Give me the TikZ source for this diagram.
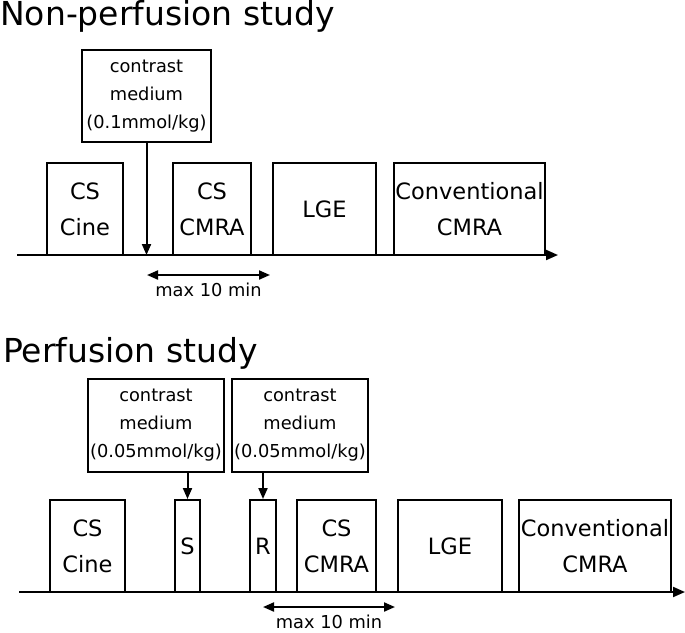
\documentclass[tikz,border=0pt]{standalone}
\usepackage{fontspec}
\setmainfont{DejaVu Sans}
\usetikzlibrary{arrows.meta}

\begin{document}
\begin{tikzpicture}[
    x=1pt, y=-1pt,
    title/.style={anchor=base west, inner sep=0pt, font=\fontsize{33}{38}\selectfont},
    seq/.style={rectangle, draw, line width=2pt, minimum height=92pt, inner sep=0pt, align=center, font=\fontsize{22.5}{36}\selectfont},
    agent/.style={rectangle, draw, line width=2pt, minimum height=92pt, inner sep=0pt, align=center, font=\fontsize{17.8}{28}\selectfont},
    timeline/.style={line width=2pt, -{Triangle[length=12pt,width=10pt]}},
    inject/.style={line width=2pt, -{Triangle[length=11pt,width=9pt]}},
    window/.style={line width=2pt, {Triangle[length=11pt,width=9pt]}-{Triangle[length=11pt,width=9pt]}},
    note/.style={font=\fontsize{17.8}{21}\selectfont, inner sep=0pt}
]
\useasboundingbox (0,0) rectangle (685,632);

% Non-perfusion study
\node[title] (title1) at (0,25) {Non-perfusion study};

\node[agent, minimum width=129pt] (cm1) at (146.5,96) {contrast\\medium\\(0.1mmol/kg)};

\node[seq, minimum width=76pt] (cine1) at (85,209) {CS\\Cine};
\node[seq, minimum width=78pt] (cmra1) at (212,209) {CS\\CMRA};
\node[seq, minimum width=103pt] (lge1) at (324.5,209) {LGE};
\node[seq, minimum width=151pt] (conv1) at (469.5,209) {Conventional\\CMRA};

\coordinate (ax1a) at (17,255);
\coordinate (ax1b) at (558,255);
\draw[timeline] (ax1a) -- (ax1b);
\draw[inject] (cm1.south) -- (cm1.south |- ax1a);

\coordinate (w1a) at (147,275);
\coordinate (w1b) at (270,275);
\draw[window] (w1a) -- node[note, below=7pt] (max1) {max 10 min} (w1b);

% Perfusion study
\node[title] (title2) at (3,362) {Perfusion study};

\node[agent, minimum width=136pt, minimum height=93pt] (cm2) at (156,425.5) {contrast\\medium\\(0.05mmol/kg)};
\node[agent, minimum width=136pt, minimum height=93pt] (cm3) at (300,425.5) {contrast\\medium\\(0.05mmol/kg)};

\node[seq, minimum width=75pt] (cine2) at (87.5,546) {CS\\Cine};
\node[seq, minimum width=25pt] (stress) at (187.5,546) {S};
\node[seq, minimum width=26pt] (rest) at (263,546) {R};
\node[seq, minimum width=79pt] (cmra2) at (336.5,546) {CS\\CMRA};
\node[seq, minimum width=104pt] (lge2) at (450,546) {LGE};
\node[seq, minimum width=152pt] (conv2) at (595,546) {Conventional\\CMRA};

\coordinate (ax2a) at (19,592);
\coordinate (ax2b) at (685,592);
\draw[timeline] (ax2a) -- (ax2b);
\draw[inject] (stress.north |- cm2.south) -- (stress.north);
\draw[inject] (rest.north |- cm3.south) -- (rest.north);

\coordinate (w2a) at (263,607);
\coordinate (w2b) at (395,607);
\draw[window] (w2a) -- node[note, below=7pt] (max2) {max 10 min} (w2b);

\end{tikzpicture}
\end{document}
